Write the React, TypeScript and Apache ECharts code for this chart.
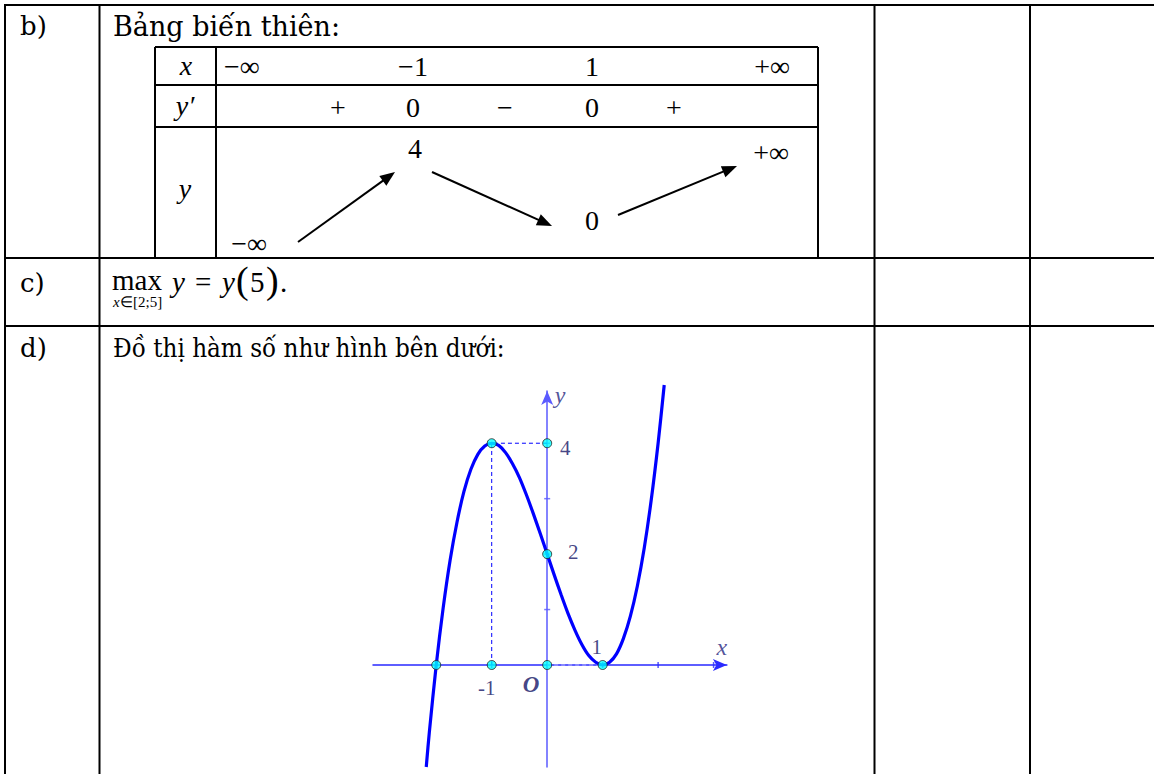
import React, { useEffect, useRef } from 'react';
import * as echarts from 'echarts';

// ---------- data ----------
const rowLabels = ['b)', 'c)', 'd)'];
const rowTitleB = 'Bảng biến thiên:';
const rowTitleD = 'Đồ thị hàm số như hình bên dưới:';
const varXLabels = ['−∞', '−1', '1', '+∞'];
const varSigns = ['+', '0', '−', '0', '+'];
const varYLabels = ['−∞', '4', '0', '+∞'];

const curveX = [-2.18, -2.125, -2, -1.875, -1.75, -1.625, -1.5, -1.375, -1.25, -1.125, -1, -0.875, -0.75, -0.625, -0.5, -0.375, -0.25, -0.125, 0, 0.125, 0.25, 0.375, 0.5, 0.625, 0.75, 0.875, 1, 1.125, 1.25, 1.375, 1.5, 1.625, 1.75, 1.875, 2, 2.11];
const curveY = [-1.84, -1.22, 0, 1.03, 1.89, 2.58, 3.13, 3.53, 3.8, 3.95, 4, 3.96, 3.83, 3.63, 3.38, 3.07, 2.73, 2.37, 2, 1.63, 1.27, 0.93, 0.63, 0.37, 0.17, 0.05, 0, 0.05, 0.2, 0.48, 0.88, 1.42, 2.11, 2.97, 4, 5.05];
const pointX = [-2, -1, 0, 1, -1, 0, 0];
const pointY = [0, 0, 0, 0, 4, 4, 2];
const guideX = [-1, -1, 0];
const guideY = [0, 4, 4];
const baseGuideX = [0, 1];
const baseGuideY = [0, 0];
const xTicks = [-2, -1, 1, 2, 3];
const yTicks = [1, 2, 3, 4];
const tickLabels = ['-1', 'O', '1', '4', '2'];
const tickLabelX = [-1, 0, 1, 0, 0];
const tickLabelY = [0, 0, 0, 4, 2];
const xMin = -3.14, xMax = 3.24, yMin = -1.84, yMax = 4.94;

// ---------- layout (positions / styles) ----------
const tickLabelOffsets = [[-5, 23], [-16, 20], [-6, -18], [18, 5], [26, -2]];
const SERIF = 'DejaVu Serif, serif';
const MATH = 'Liberation Serif, serif';
const X_AXIS_BLUE = '#2a2aff';
const Y_AXIS_BLUE = '#5a5aff';
const LABEL_NAVY = '#141466';

function hline(x1: number, x2: number, y: number, w = 2) {
  return { type: 'line', silent: true, shape: { x1, y1: y, x2, y2: y }, style: { stroke: '#000', lineWidth: w } };
}
function vline(x: number, y1: number, y2: number, w = 2) {
  return { type: 'line', silent: true, shape: { x1: x, y1, x2: x, y2 }, style: { stroke: '#000', lineWidth: w } };
}
function txt(x: number, y: number, text: string, o: any = {}) {
  return {
    type: 'text', silent: true, x, y,
    scaleX: o.scaleX || 1,
    style: {
      text,
      fontFamily: o.family || MATH,
      fontSize: o.size || 24,
      fontStyle: o.italic ? 'italic' : 'normal',
      fontWeight: o.bold ? 'bold' : 'normal',
      fill: o.fill || '#000',
      textAlign: o.align || 'center',
      textVerticalAlign: 'middle',
    },
  };
}
function arrow(x1: number, y1: number, x2: number, y2: number) {
  const dx = x2 - x1, dy = y2 - y1;
  const len = Math.hypot(dx, dy);
  const ux = dx / len, uy = dy / len;
  const L = 15, Hw = 6;
  const bx = x2 - ux * L, by = y2 - uy * L;
  return [
    { type: 'line', silent: true, shape: { x1, y1, x2: bx + ux * 2, y2: by + uy * 2 }, style: { stroke: '#000', lineWidth: 2 } },
    {
      type: 'polygon', silent: true,
      shape: { points: [[x2, y2], [bx - uy * Hw, by + ux * Hw], [bx + uy * Hw, by - ux * Hw]] },
      style: { fill: '#000' },
    },
  ];
}

export default function App() {
  const ref = useRef<HTMLDivElement>(null);
  useEffect(() => {
    document.body.style.margin = '0';
    const chart = echarts.init(ref.current!, null, { renderer: 'svg' });

    // outer table
    const colX = [5, 99.5, 874.5, 1030];
    const rowY = [5, 258, 326];
    const g: any[] = [];
    rowY.forEach((y) => g.push(hline(4, 1154, y)));
    colX.forEach((x) => g.push(vline(x, 4, 774)));

    // row labels
    const labelY = [26, 283, 348];
    rowLabels.forEach((t, i) => g.push(txt(20, labelY[i], t, { family: SERIF, size: 26, align: 'left' })));
    g.push(txt(113, 26, rowTitleB, { family: SERIF, size: 27, align: 'left' }));
    g.push(txt(113, 348, rowTitleD, { family: SERIF, size: 26, align: 'left', scaleX: 0.89 }));

    // variation table
    const vx = [155, 216, 818];
    const vy = [47, 85, 127, 258];
    vy.forEach((y) => g.push(hline(vx[0], vx[2], y)));
    g.push(vline(vx[0], vy[0], vy[3]));
    g.push(vline(vx[1], vy[0], vy[3]));
    g.push(vline(vx[2], vy[0], vy[3]));
    g.push(txt(186, 65, 'x', { italic: true, size: 28 }));
    g.push(txt(185, 105, 'y′', { italic: true, size: 28 }));
    g.push(txt(185, 188, 'y', { italic: true, size: 28 }));
    const xCols = [224, 413, 592, 772];
    varXLabels.forEach((t, i) =>
      g.push(txt(xCols[i], 66, t, { size: 28, align: i === 0 ? 'left' : 'center' }))
    );
    const signCols = [338, 413, 505, 592, 674];
    varSigns.forEach((t, i) => g.push(txt(signCols[i], 107, t, { size: 28 })));
    const yPos = [[249, 243], [415, 148], [592, 220], [771, 152]];
    varYLabels.forEach((t, i) => g.push(txt(yPos[i][0], yPos[i][1], t, { size: 28 })));
    g.push(...arrow(298, 242, 395, 172));
    g.push(...arrow(432, 172, 552, 226));
    g.push(...arrow(618, 215, 737, 166));

    // row c: max_{x∈[2;5]} y = y(5).
    g.push(txt(112, 280, 'max', { size: 29, align: 'left' }));
    g.push(txt(113, 302, 'x', { size: 15, italic: true, align: 'left' }));
    g.push(txt(120, 302, '∈[2;5]', { size: 15, align: 'left' }));
    g.push(txt(172, 282, 'y', { size: 29, italic: true, align: 'left' }));
    g.push(txt(195, 282, '=', { size: 29, align: 'left' }));
    g.push(txt(222, 282, 'y', { size: 29, italic: true, align: 'left' }));
    g.push(txt(236, 280, '(', { size: 38, align: 'left' }));
    g.push(txt(250, 282, '5', { size: 29, align: 'left' }));
    g.push(txt(266, 280, ')', { size: 38, align: 'left' }));
    g.push(txt(280, 282, '.', { size: 29, align: 'left' }));

    const pt = (xs: number[], ys: number[]) => xs.map((x, i) => [x, ys[i]]);

    const labelSeriesData = tickLabels.map((t, i) => {
      const isO = t === 'O';
      return {
        value: [tickLabelX[i], tickLabelY[i]],
        label: {
          show: true,
          position: 'inside',
          formatter: t,
          offset: tickLabelOffsets[i],
          color: LABEL_NAVY,
          fontFamily: MATH,
          fontSize: isO ? 23 : 21,
          fontWeight: isO ? 'bold' : 'normal',
          fontStyle: isO ? 'italic' : 'normal',
        },
      };
    });
    const axisNameData = [
      { value: [xMax, 0], label: { show: true, position: 'inside', formatter: 'x', offset: [-5, -18], color: '#262680', fontFamily: MATH, fontSize: 24, fontStyle: 'italic' } },
      { value: [0, yMax], label: { show: true, position: 'inside', formatter: 'y', offset: [13, 4], color: '#262680', fontFamily: MATH, fontSize: 24, fontStyle: 'italic' } },
    ];

    const gridLeft = 373;
    const unitX = 55.47;
    const unitY = 55.44;
    const gridW = (xMax - xMin) * unitX;
    const gridH = (yMax - yMin) * unitY;
    const gridTop = 767 - gridH;

    const axisCommon = (color: string) => ({
      type: 'value',
      axisTick: { show: false },
      axisLabel: { show: false },
      splitLine: { show: false },
      axisLine: {
        show: true,
        onZero: true,
        symbol: ['none', 'arrow'],
        symbolSize: [9, 14],
        lineStyle: { color, width: 1.5 },
      },
    });

    const option: any = {
      animation: false,
      backgroundColor: '#fff',
      grid: { left: gridLeft, top: gridTop, width: gridW, height: gridH, containLabel: false },
      xAxis: { ...axisCommon(X_AXIS_BLUE), min: xMin, max: xMax },
      yAxis: { ...axisCommon(Y_AXIS_BLUE), min: yMin, max: yMax },
      graphic: { elements: g },
      series: [
        {
          type: 'scatter', silent: true, symbol: 'rect', symbolSize: [1.5, 6],
          itemStyle: { color: X_AXIS_BLUE },
          data: xTicks.map((x) => [x, 0]), z: 1,
        },
        {
          type: 'scatter', silent: true, symbol: 'rect', symbolSize: [6, 1.5],
          itemStyle: { color: Y_AXIS_BLUE },
          data: yTicks.map((y) => [0, y]), z: 1,
        },
        {
          type: 'line', silent: true, showSymbol: false, symbol: 'none',
          lineStyle: { color: '#0000ff', width: 1, type: [4, 3] },
          data: pt(guideX, guideY), z: 2,
        },
        {
          type: 'line', silent: true, showSymbol: false, symbol: 'none',
          lineStyle: { color: '#9a9aff', width: 1.5, type: [4, 3] },
          data: pt(baseGuideX, baseGuideY), z: 2,
        },
        {
          type: 'line', silent: true, showSymbol: false, symbol: 'none', smooth: 0.3, clip: false,
          lineStyle: { color: '#0000ff', width: 3.2 },
          data: pt(curveX, curveY), z: 3,
        },
        {
          type: 'scatter', silent: true, symbolSize: 9,
          itemStyle: { color: '#00ffff', borderColor: '#222', borderWidth: 1 },
          data: pt(pointX, pointY), z: 4,
        },
        {
          type: 'scatter', silent: true, symbolSize: 1,
          itemStyle: { color: 'transparent' },
          data: [...labelSeriesData, ...axisNameData], z: 5,
        },
      ],
    };
    chart.setOption(option);
    return () => chart.dispose();
  }, []);
  return <div ref={ref} style={{ width: 1154, height: 774, background: '#fff' }} />;
}
